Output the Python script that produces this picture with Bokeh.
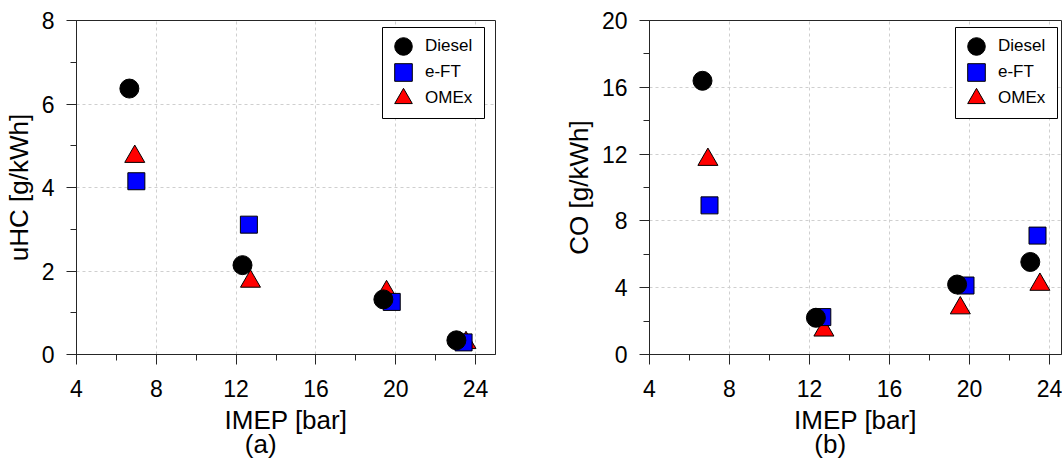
from bokeh.plotting import figure
from bokeh.layouts import row
from bokeh.models import Range1d, SingleIntervalTicker, Legend, LegendItem, BoxAnnotation
from bokeh.embed import file_html
from bokeh.resources import INLINE

# ---- data ----
fuels = ["Diesel", "e-FT", "OMEx"]
imep_diesel = [6.65, 12.32, 19.38, 23.04]
imep_eft = [7.0, 12.64, 19.8, 23.4]
imep_omex = [6.92, 12.72, 19.54, 23.52]

uhc_diesel = [6.37, 2.14, 1.32, 0.34]
uhc_eft = [4.15, 3.11, 1.26, 0.29]
uhc_omex = [4.74, 1.75, 1.5, 0.28]

co_diesel = [16.39, 2.2, 4.19, 5.54]
co_eft = [8.93, 2.24, 4.13, 7.12]
co_omex = [11.67, 1.45, 2.78, 4.19]

x_label = "IMEP [bar]"
y_labels = ["uHC [g/kWh]", "CO [g/kWh]"]
tags = ["(a)", "(b)"]

FONT = "Liberation Sans"
AX = "#262626"
NBSP = "\u00a0"


def make_panel(ys, y_end, y_interval, ylabel, tag, width, min_left, min_right, x_end):
    p = figure(width=width, height=461, x_range=Range1d(4, x_end), y_range=Range1d(0, y_end),
               output_backend="svg", toolbar_location=None,
               min_border_left=min_left, min_border_right=min_right,
               min_border_top=20, min_border_bottom=107)
    p.background_fill_color = "white"
    p.border_fill_color = "white"
    p.outline_line_color = AX
    p.outline_line_width = 1

    p.xaxis.ticker = SingleIntervalTicker(interval=4, num_minor_ticks=2)
    p.yaxis.ticker = SingleIntervalTicker(interval=y_interval, num_minor_ticks=2)
    for ax in (p.xaxis, p.yaxis):
        ax.major_tick_out = 10
        ax.major_tick_in = 0
        ax.minor_tick_out = 6
        ax.minor_tick_in = 0
        ax.axis_line_color = AX
        ax.major_tick_line_color = AX
        ax.minor_tick_line_color = AX
        ax.major_label_text_font = FONT
        ax.major_label_text_font_size = "23px"
        ax.major_label_text_color = "black"
        ax.major_label_standoff = 12
        ax.axis_label_text_font = FONT
        ax.axis_label_text_font_size = "26px"
        ax.axis_label_text_font_style = "normal"
        ax.axis_label_text_color = "black"
        ax.axis_label_standoff = 5
    p.xaxis.major_label_standoff = 15
    p.xaxis.axis_label_standoff = 5
    p.xaxis.axis_label_text_line_height = 0.8
    p.xaxis.axis_label = x_label + "\n" + tag + NBSP * 7
    p.yaxis.axis_label = ylabel

    for g in (p.xgrid, p.ygrid):
        g.grid_line_color = "#cfcfcf"
        g.grid_line_dash = "3 3"
        g.grid_line_width = 1

    r_o = p.scatter(imep_omex, ys[2], marker="triangle", size=20, fill_color="#ff0000",
                    line_color="black", line_width=1)
    r_e = p.scatter(imep_eft, ys[1], marker="square", size=17, fill_color="#0000ff",
                    line_color="black", line_width=1)
    r_d = p.scatter(imep_diesel, ys[0], marker="circle", size=19, fill_color="black",
                    line_color="black", line_width=1)

    # legend frame
    p.add_layout(BoxAnnotation(left=306, right=408, top=327, bottom=236,
                               left_units="screen", right_units="screen",
                               top_units="screen", bottom_units="screen",
                               fill_color="white", fill_alpha=1,
                               line_color="black", line_width=1, line_alpha=1))
    # one legend per entry so that the swatches keep their size at a tight row pitch
    for item_label, rend, ypos in zip(fuels, [r_d, r_e, r_o], [286, 260, 234]):
        lg = Legend(items=[LegendItem(label=item_label, renderers=[rend])],
                    location=(305, ypos), margin=0,
                    glyph_width=44, glyph_height=44, spacing=0, padding=0,
                    label_standoff=0, label_width=60,
                    border_line_alpha=0, background_fill_alpha=0,
                    label_text_font=FONT, label_text_font_size="17px",
                    label_text_color="black")
        p.add_layout(lg)
    return p


p1 = make_panel([uhc_diesel, uhc_eft, uhc_omex], 8, 2, y_labels[0], tags[0], 531, 75, 36, 25)
p2 = make_panel([co_diesel, co_eft, co_omex], 20, 4, y_labels[1], tags[1], 531, 118, 1, 24.6)

layout = row(p1, p2)
open("out.html", "w").write(file_html(layout, INLINE))
